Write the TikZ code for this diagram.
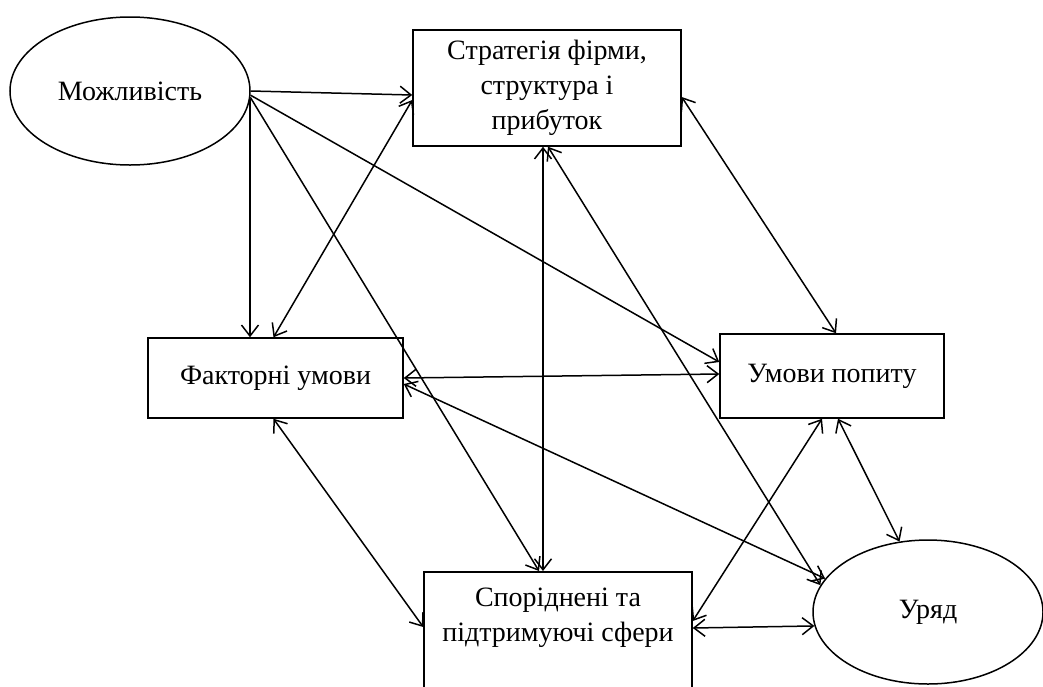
\documentclass[tikz,border=0pt]{standalone}
\usepackage{fontspec}
\setmainfont{Liberation Serif}
\usetikzlibrary{shapes.geometric,arrows.meta}

\begin{document}
\begin{tikzpicture}[x=1pt,y=-1pt,line width=1.5pt,
	>={Straight Barb[length=11pt,width=17pt]},
	every node/.style={font=\fontsize{28}{35}\selectfont, align=center},
	box/.style={draw, rectangle, inner sep=4pt},
	oval/.style={draw, ellipse, inner sep=0pt}]
	\useasboundingbox (0,0) rectangle (1043,686);
	\clip (0,0) rectangle (1043,686);
	\node[oval, minimum width=240pt, minimum height=148pt] (M) at (130,91) {Можливість};
	\node[box, minimum width=268pt, minimum height=116pt] (S) at (547,88) {Стратегія фірми,\\структура і\\прибуток};
	\node[box, minimum width=255pt, minimum height=80pt] (F) at (275.5,378) {Факторні умови};
	\node[box, minimum width=224pt, minimum height=84pt] (D) at (832,376) {Умови попиту};
	\node[box, minimum width=268pt, inner ysep=16pt, anchor=north] (R) at (558,571) {Споріднені та\\підтримуючі сфери\\~\\~};
	\node[oval, minimum width=230pt, minimum height=144pt] (U) at (928,612) {Уряд};
	\draw[->] (M.east) -- ([yshift=-7pt]S.west);
	\draw[->] (M.-4) -- (M.-4 |- F.north);
	\draw[->] (M.-3) -- ([xshift=-19pt]R.north);
	\draw[->] (M.-2) -- ([yshift=14pt]D.west);
	\draw[<->] ([yshift=-12pt]S.west) -- ([xshift=-2pt]F.north);
	\draw[<->] ([xshift=-4pt]S.south) -- ([xshift=-15pt]R.north);
	\draw[<->] ([xshift=1pt]S.south) -- (U.166);
	\draw[<->] ([yshift=-9pt]S.east) -- ([xshift=4pt]D.north);
	\draw[<->] (F.east) -- ([yshift=2pt]D.west);
	\draw[<->] ([yshift=-6pt]F.east) -- (U.162);
	\draw[<->] ([xshift=-2pt]F.south) -- ([yshift=-56pt]R.north west);
	\draw[<->] ([xshift=-10pt]D.south) -- ([yshift=-50pt]R.north east);
	\draw[<->] ([xshift=6pt]D.south) -- (U.112);
	\draw[<->] ([yshift=-57pt]R.north east) -- (U.187);
\end{tikzpicture}
\end{document}
